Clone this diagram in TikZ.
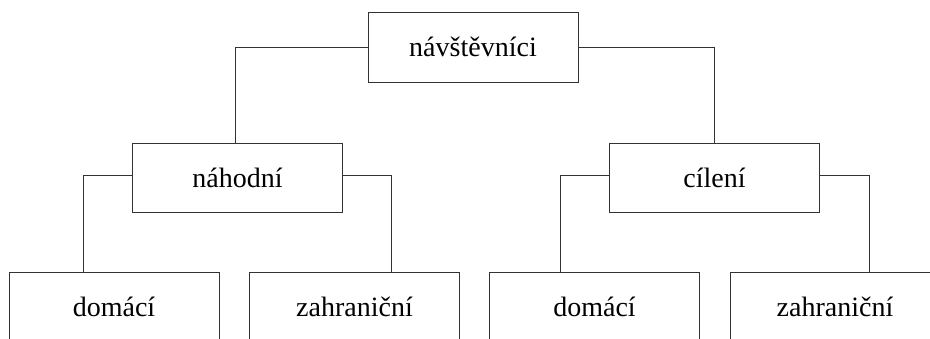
\documentclass[tikz,border=0pt]{standalone}
\usepackage{fontspec}
\setmainfont{Liberation Serif}
\begin{document}
\begin{tikzpicture}[x=1pt,y=-1pt,
  box/.style={draw=black!80,line width=0.9pt,minimum width=210pt,minimum height=70pt,inner sep=0pt,font=\fontsize{28}{33}\selectfont},
  link/.style={draw=black!80,line width=0.9pt}]
\useasboundingbox (0,0) rectangle (930,338);
\clip (0,0) rectangle (930,338);
\node[box] (root) at (473,47) {návštěvníci};
\node[box,minimum height=69pt] (nah) at (237.5,177.5) {náhodní};
\node[box,minimum height=69pt] (cil) at (714.5,177.5) {cílení};
\node[box] (d1) at (114,307) {domácí};
\node[box] (z1) at (354.5,307) {zahraniční};
\node[box] (d2) at (594.5,307) {domácí};
\node[box] (z2) at (835,307) {zahraniční};
\coordinate (rl) at (235,143);
\coordinate (rr) at (714,143);
\draw[link] (root.west) -| (nah.north -| rl);
\draw[link] (root.east) -| (cil.north -| rr);
\draw[link] ([yshift=2.5pt]nah.west) -| (d1.north -| 83,0);
\draw[link] ([yshift=2.5pt]nah.east) -| (z1.north -| 391,0);
\draw[link] ([yshift=2.5pt]cil.west) -| (d2.north -| 560,0);
\draw[link] ([yshift=2.5pt]cil.east) -| (z2.north -| 869,0);
\end{tikzpicture}
\end{document}
